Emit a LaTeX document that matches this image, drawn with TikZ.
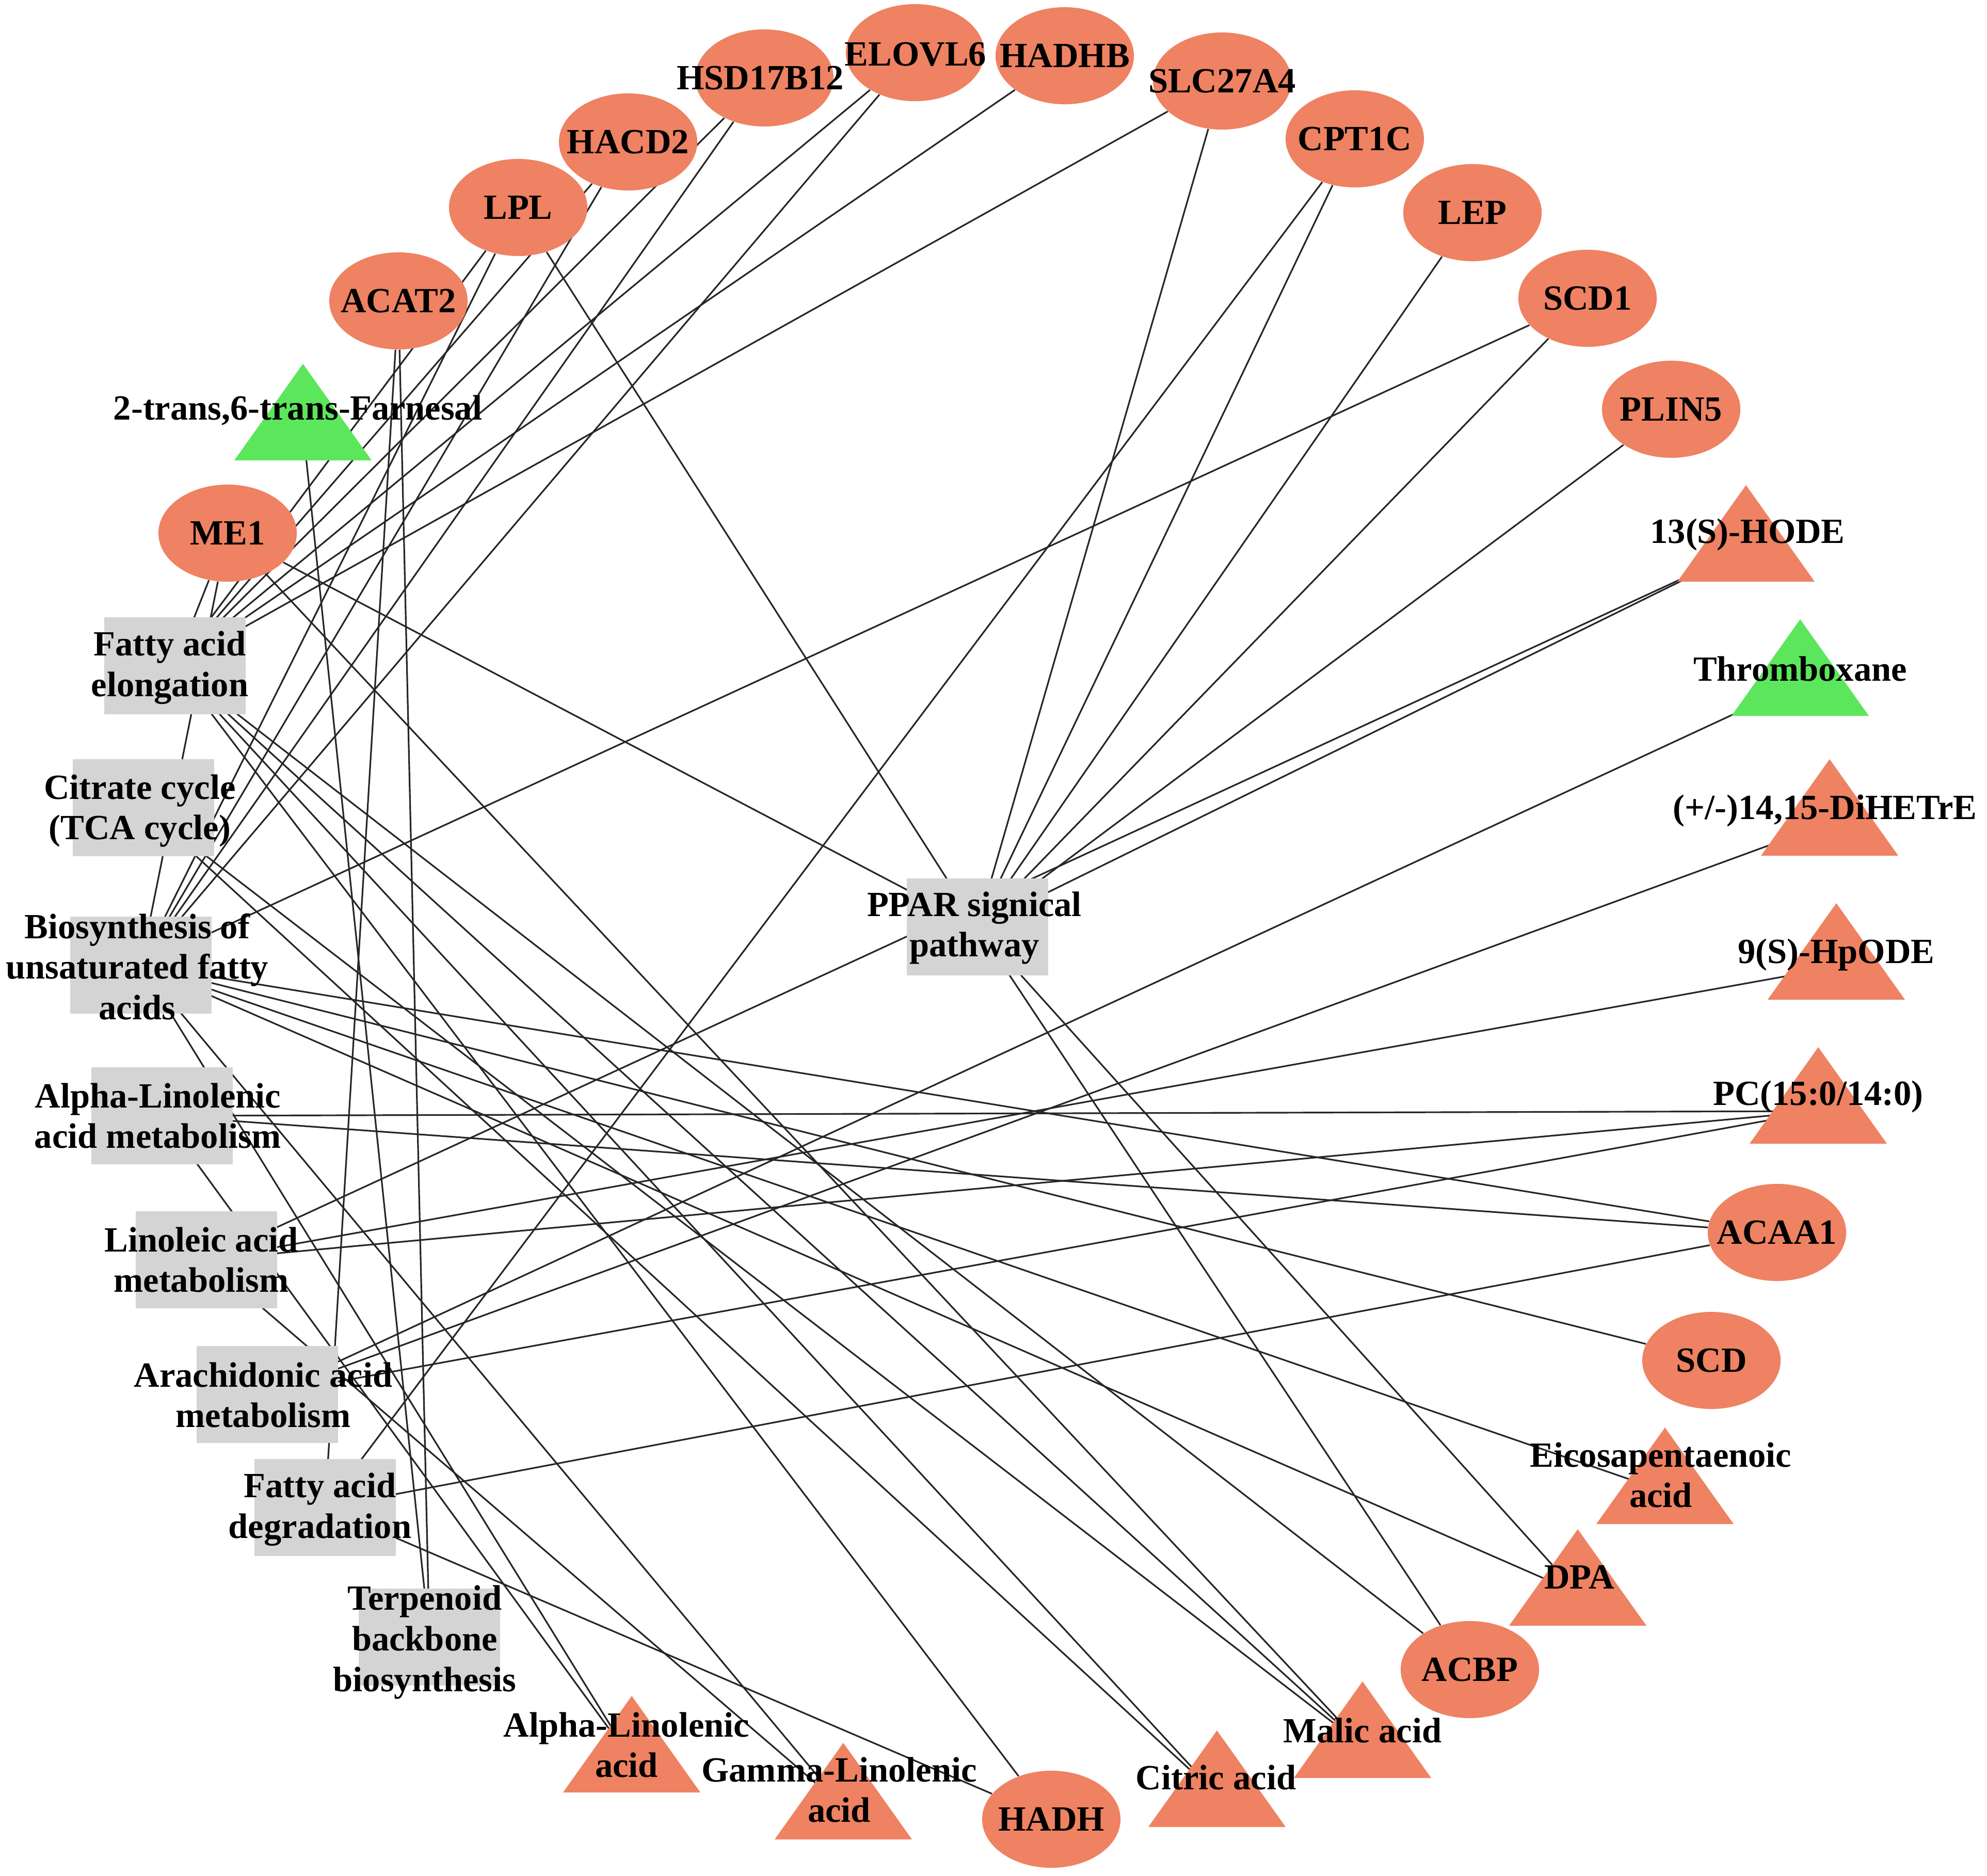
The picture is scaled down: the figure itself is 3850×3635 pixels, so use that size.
\documentclass[tikz,border=0pt]{standalone}
\usepackage{fontspec}
\setmainfont{Liberation Serif}
\usetikzlibrary{shapes.geometric}
\definecolor{nodeorange}{RGB}{238,130,98}
\definecolor{nodegreen}{RGB}{92,230,92}
\definecolor{pwgray}{RGB}{212,212,212}
\pgfdeclarelayer{bglayer}
\pgfdeclarelayer{edgelayer}
\pgfsetlayers{bglayer,edgelayer,main}
\newcommand\lblfont{\fontsize{19.5pt}{22.4pt}\selectfont\bfseries}
\begin{document}
\begin{tikzpicture}[x=0.01cm,y=-0.01cm,
  gene/.style={ellipse, fill=nodeorange, minimum width=2.68cm, minimum height=1.88cm, inner sep=0pt},
  pw/.style={rectangle, fill=pwgray, minimum width=2.73cm, minimum height=1.88cm, inner sep=0pt},
  lbl/.style={align=center, inner sep=0pt, font=\lblfont},
  trip/.style={fill=nodeorange},
  trig/.style={fill=nodegreen},
  edge/.style={draw=black!85, line width=0.9pt}]
\begin{pgfonlayer}{bglayer}
\fill[white] (0,0) rectangle (3850,3635);
\end{pgfonlayer}
\useasboundingbox (0,0) rectangle (3850,3635);

% ---------- genes (ellipses)
\node[gene] (acat) at (772,583) {};
\node[gene] (me1) at (441,1033) {};
\node[gene] (lpl) at (1004,402) {};
\node[gene] (hacd) at (1217,275) {};
\node[gene] (hsd) at (1481,151) {};
\node[gene] (elovl) at (1773,102) {};
\node[gene] (hadhb) at (2063,108) {};
\node[gene] (slc) at (2368,157) {};
\node[gene] (cpt) at (2625,269) {};
\node[gene] (lep) at (2853,412) {};
\node[gene] (scdone) at (3076,578) {};
\node[gene] (plin) at (3238,793) {};
\node[gene] (acaa) at (3443,2388) {};
\node[gene] (scd) at (3316,2636) {};
\node[gene] (acbp) at (2848,3235) {};
\node[gene] (hadh) at (2037,3525) {};

% ---------- pathways (grey boxes)
\node[pw] (fae) at (339,1290) {};
\node[pw] (tca) at (278,1565) {};
\node[pw] (bufa) at (273,1870) {};
\node[pw] (ala) at (314,2162) {};
\node[pw] (la) at (400,2441) {};
\node[pw] (aa) at (518,2702) {};
\node[pw] (fad) at (630,2921) {};
\node[pw] (terp) at (832,3172) {};
\node[pw] (ppar) at (1894,1796) {};

% ---------- metabolites (triangles)
\fill[trig] (587,705) -- (720,892) -- (454,892) -- cycle;
\coordinate (farn) at (587,829);
\fill[trip] (3383,940) -- (3516,1127) -- (3250,1127) -- cycle;
\coordinate (hode) at (3383,1064);
\fill[trig] (3488,1200) -- (3621,1387) -- (3355,1387) -- cycle;
\coordinate (throm) at (3488,1324);
\fill[trip] (3545,1471) -- (3678,1658) -- (3412,1658) -- cycle;
\coordinate (dihet) at (3545,1595);
\fill[trip] (3558,1750) -- (3691,1937) -- (3425,1937) -- cycle;
\coordinate (hpode) at (3558,1874);
\fill[trip] (3523,2029) -- (3656,2216) -- (3390,2216) -- cycle;
\coordinate (pc) at (3523,2153);
\fill[trip] (3226,2766) -- (3359,2953) -- (3093,2953) -- cycle;
\coordinate (epa) at (3226,2890);
\fill[trip] (3057,2963) -- (3190,3150) -- (2924,3150) -- cycle;
\coordinate (dpa) at (3057,3087);
\fill[trip] (2640,3258) -- (2773,3445) -- (2507,3445) -- cycle;
\coordinate (malic) at (2640,3382);
\fill[trip] (2358,3353) -- (2491,3540) -- (2225,3540) -- cycle;
\coordinate (citric) at (2358,3477);
\fill[trip] (1634,3377) -- (1767,3564) -- (1501,3564) -- cycle;
\coordinate (gamma) at (1634,3501);
\fill[trip] (1224,3286) -- (1357,3473) -- (1091,3473) -- cycle;
\coordinate (alpha) at (1224,3410);

% ---------- labels
\node[lbl] (t-acat) at (772,583) {ACAT2};
\node[lbl] (t-me1) at (441,1033) {ME1};
\node[lbl] (t-lpl) at (1004,402) {LPL};
\node[lbl] (t-hacd) at (1217,275) {HACD2};
\node[lbl] (t-hsd) at (1473,151) {HSD17B12};
\node[lbl] (t-elovl) at (1774,105) {ELOVL6};
\node[lbl] (t-hadhb) at (2063,108) {HADHB};
\node[lbl] (t-slc) at (2368,157) {SLC27A4};
\node[lbl] (t-cpt) at (2625,269) {CPT1C};
\node[lbl] (t-lep) at (2853,412) {LEP};
\node[lbl] (t-scdone) at (3076,578) {SCD1};
\node[lbl] (t-plin) at (3238,793) {PLIN5};
\node[lbl] (t-acaa) at (3443,2388) {ACAA1};
\node[lbl] (t-scd) at (3316,2636) {SCD};
\node[lbl] (t-acbp) at (2848,3235) {ACBP};
\node[lbl] (t-hadh) at (2037,3525) {HADH};
\node[lbl] (t-farn) at (577,795) {2-trans,6-trans-Farnesal};
\node[lbl] (t-hode) at (3386,1036) {13(S)-HODE};
\node[lbl] (t-throm) at (3488,1296) {Thromboxane};
\node[lbl] (t-dihet) at (3536,1571) {(+/-)14,15-DiHETrE};
\node[lbl] (t-hpode) at (3558,1850) {9(S)-HpODE};
\node[lbl] (t-pc) at (3523,2125) {PC(15:0/14:0)};
\node[lbl] (t-epa) at (3218,2858) {Eicosapentaenoic\\acid};
\node[lbl] (t-dpa) at (3060,3056) {DPA};
\node[lbl] (t-malic) at (2640,3353) {Malic acid};
\node[lbl] (t-citric) at (2356,3444) {Citric acid};
\node[lbl] (t-gamma) at (1626,3468) {Gamma-Linolenic\\acid};
\node[lbl] (t-alpha) at (1214,3381) {Alpha-Linolenic\\acid};
\node[lbl] (t-fae) at (329,1294) {Fatty acid\\elongation};
\node[lbl] (t-tca) at (271,1571) {Citrate cycle\\(TCA cycle)};
\node[lbl] (t-bufa) at (266,1873) {Biosynthesis of\\unsaturated fatty\\acids};
\node[lbl] (t-ala) at (306,2162) {Alpha-Linolenic\\acid metabolism};
\node[lbl] (t-la) at (390,2441) {Linoleic acid\\metabolism};
\node[lbl] (t-aa) at (510,2703) {Arachidonic acid\\metabolism};
\node[lbl] (t-fad) at (620,2925) {Fatty acid\\degradation};
\node[lbl] (t-terp) at (823,3182) {Terpenoid\\backbone\\biosynthesis};
\node[lbl] (t-ppar) at (1888,1798) {PPAR signical\\pathway};

% ---------- connectors (behind the shapes)
\begin{pgfonlayer}{edgelayer}
\foreach \a in {lpl,me1,slc,cpt,lep,scdone,plin,hode,acbp,dpa}
  \draw[edge] (ppar.center) -- (\a);
\foreach \a in {lpl,hacd,hsd,elovl,hadhb,slc,me1,hadh,citric,malic,acbp}
  \draw[edge] (fae.center) -- (\a);
\foreach \a in {malic,citric}
  \draw[edge] (tca.center) -- (\a);
\foreach \a in {lpl,hacd,hsd,elovl,scdone,me1,acaa,scd,epa,dpa,alpha,gamma}
  \draw[edge] (bufa.center) -- (\a);
\foreach \a in {acaa,pc,alpha}
  \draw[edge] (ala.center) -- (\a);
\foreach \a in {hode,hpode,pc,gamma}
  \draw[edge] (la.center) -- (\a);
\foreach \a in {throm,dihet,pc}
  \draw[edge] (aa.center) -- (\a);
\foreach \a in {acat,cpt,acaa,hadh}
  \draw[edge] (fad.center) -- (\a);
\foreach \a in {acat,farn}
  \draw[edge] (terp.center) -- (\a);
\draw[edge] (me1.center) -- (malic);
\end{pgfonlayer}
\end{tikzpicture}
\end{document}
